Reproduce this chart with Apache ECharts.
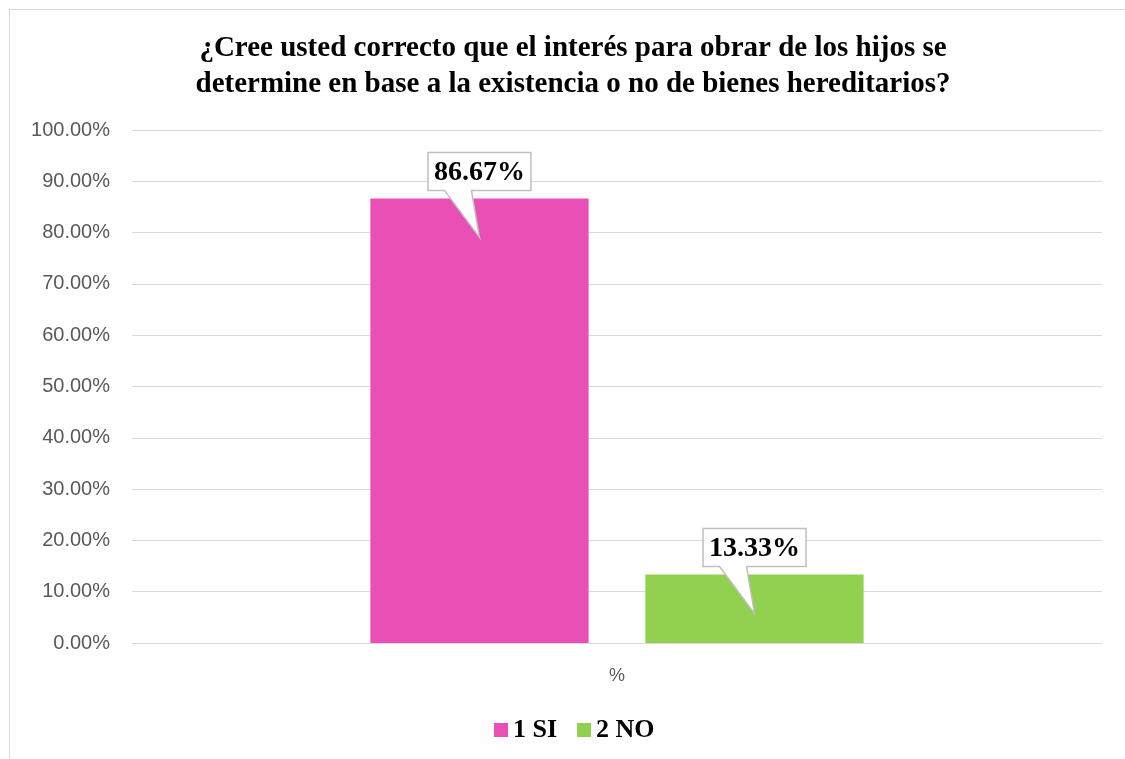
<!DOCTYPE html>
<html>
<head>
<meta charset="utf-8">
<script src="https://cdn.jsdelivr.net/npm/echarts@6/dist/echarts.min.js"></script>
<style>
  html, body { margin: 0; padding: 0; background: #fff; }
  #frame {
    position: absolute; left: 9px; top: 9px; width: 1200px; height: 800px;
    border-left: 1px solid #d9d9d9; border-top: 1px solid #d9d9d9;
  }
  #chart { position: absolute; left: 0; top: 0; width: 1125px; height: 759px; }
</style>
</head>
<body>
<div id="frame"></div>
<div id="chart"></div>
<script>
var categories = ['%'];
var seriesNames = ['1 SI', '2 NO'];
var siValues = [86.67];
var noValues = [13.33];
var colors = ['#EA4FB6', '#92D050'];

// callout data: [category, value, side (-1 left bar, 1 right bar)]
var calloutData = [
  [categories[0], siValues[0], -1],
  [categories[0], noValues[0], 1]
];

function renderCallout(params, api) {
  var base = api.coord([api.value(0), api.value(1)]);
  var band = api.size([1, 0])[0];
  var cx = base[0] + api.value(2) * band * 0.1418;
  var top = base[1];
  var w = 103, h = 38;
  var L = cx - w / 2, R = cx + w / 2, B = top - 8, T = B - h;
  var tipY = top + 39;
  return {
    type: 'group',
    children: [
      {
        type: 'polygon',
        shape: { points: [[L, T], [R, T], [R, B], [cx - 8, B], [cx, tipY], [cx - 35, B], [L, B]] },
        style: { fill: '#fff', stroke: '#bfbfbf', lineWidth: 1.5 }
      },
      {
        type: 'text',
        style: {
          text: api.value(1).toFixed(2) + '%',
          x: cx, y: (T + B) / 2 + 1,
          align: 'center', verticalAlign: 'middle',
          font: 'bold 28px "Liberation Serif"',
          fill: '#000'
        }
      }
    ]
  };
}

var myChart = echarts.init(document.getElementById('chart'));
var option = {
  backgroundColor: 'transparent',
  animation: false,
  color: colors,
  title: {
    text: '¿Cree usted correcto que el interés para obrar de los hijos se\ndetermine en base a la existencia o no de bienes hereditarios?',
    left: 568,
    textAlign: 'center',
    top: 26,
    textStyle: {
      fontFamily: 'Liberation Serif',
      fontWeight: 'bold',
      fontSize: 29,
      lineHeight: 36,
      color: '#000'
    }
  },
  legend: {
    data: seriesNames,
    bottom: 11,
    left: 489,
    icon: 'rect',
    itemWidth: 14,
    itemHeight: 14,
    itemGap: 20,
    textStyle: {
      fontFamily: 'Liberation Serif',
      fontWeight: 'bold',
      fontSize: 26,
      color: '#000'
    }
  },
  grid: {
    left: 132,
    right: 23,
    top: 130,
    bottom: 116
  },
  xAxis: {
    type: 'category',
    data: categories,
    axisLine: { lineStyle: { color: '#d9d9d9' } },
    axisTick: { show: false },
    axisLabel: {
      margin: 24,
      fontFamily: 'Liberation Sans',
      fontSize: 18,
      color: '#595959'
    }
  },
  yAxis: {
    type: 'value',
    min: 0,
    max: 100,
    interval: 10,
    axisLine: { show: false },
    axisTick: { show: false },
    splitLine: { lineStyle: { color: '#d9d9d9', width: 1 } },
    axisLabel: {
      margin: 22,
      fontFamily: 'Liberation Sans',
      fontSize: 20,
      color: '#595959',
      formatter: function (v) { return v.toFixed(2) + '%'; }
    }
  },
  series: [
    {
      name: seriesNames[0],
      type: 'bar',
      data: siValues,
      barWidth: '22.5%',
      barGap: '26%'
    },
    {
      name: seriesNames[1],
      type: 'bar',
      data: noValues,
      barWidth: '22.5%',
      barGap: '26%'
    },
    {
      type: 'custom',
      renderItem: renderCallout,
      data: calloutData,
      z: 10,
      silent: true
    }
  ]
};
myChart.setOption(option);
</script>
</body>
</html>
